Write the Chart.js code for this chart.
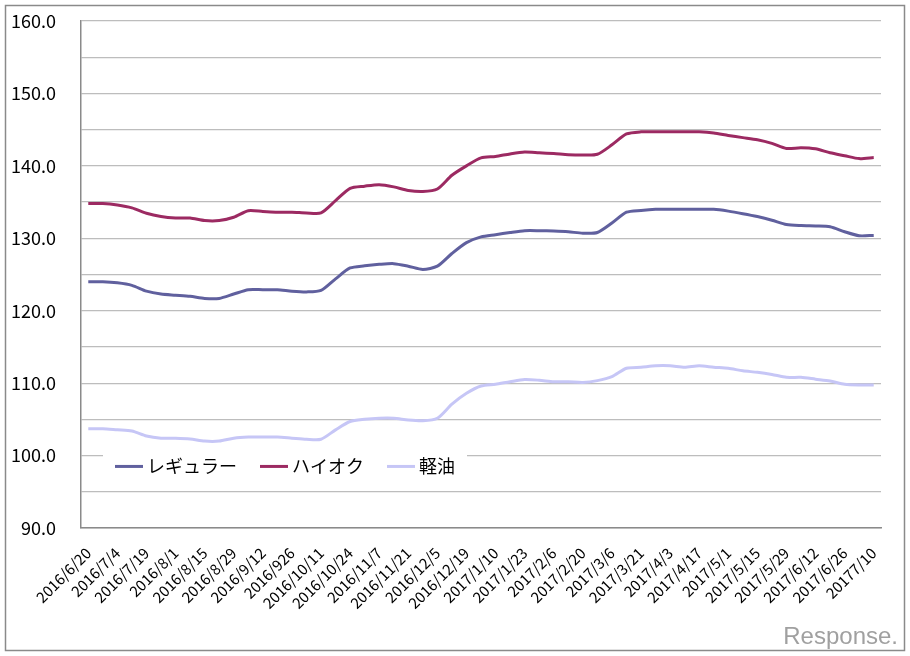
<!DOCTYPE html>
<html>
<head>
<meta charset="utf-8">
<script src="https://cdn.jsdelivr.net/npm/chart.js@4.4.1/dist/chart.umd.min.js"></script>
<style>
  html, body { margin: 0; padding: 0; background: #fff; }
  canvas { display: block; }
</style>
</head>
<body>
<canvas id="c" width="910" height="656"></canvas>
<script>
// Weekly survey dates (every other one is shown on the axis, as in the original, typos kept)
const categories = [
  '2016/6/20','2016/6/27','2016/7/4','2016/7/11','2016/7/19','2016/7/25','2016/8/1','2016/8/8',
  '2016/8/15','2016/8/22','2016/8/29','2016/9/5','2016/9/12','2016/9/20','2016/926','2016/10/3',
  '2016/10/11','2016/10/17','2016/10/24','2016/10/31','2016/11/7','2016/11/14','2016/11/21','2016/11/28',
  '2016/12/5','2016/12/12','2016/12/19','2016/12/26','2017/1/10','2017/1/16','2017/1/23','2017/1/30',
  '2017/2/6','2017/2/13','2017/2/20','2017/2/27','2017/3/6','2017/3/13','2017/3/21','2017/3/27',
  '2017/4/3','2017/4/10','2017/4/17','2017/4/24','2017/5/1','2017/5/8','2017/5/15','2017/5/22',
  '2017/5/29','2017/6/5','2017/6/12','2017/6/19','2017/6/26','2017/7/3','20177/10'
];

const regular = [
  124.0,124.0,123.85,123.5,122.7,122.3,122.15,122.0,121.7,121.7,122.3,122.9,122.9,122.9,122.7,122.6,
  122.8,124.4,125.9,126.2,126.4,126.5,126.15,125.7,126.15,127.9,129.4,130.2,130.5,130.8,131.05,131.05,
  131.0,130.9,130.7,130.8,132.1,133.6,133.85,134.0,134.0,134.0,134.0,134.0,133.75,133.4,133.0,132.5,
  131.9,131.75,131.7,131.6,130.9,130.35,130.4
];

const highOctane = [
  134.8,134.8,134.6,134.2,133.45,133.0,132.8,132.8,132.45,132.45,132.9,133.8,133.7,133.6,133.6,133.5,
  133.5,135.2,136.9,137.2,137.4,137.1,136.6,136.45,136.8,138.7,140.0,141.1,141.3,141.65,141.9,141.8,
  141.7,141.55,141.5,141.6,142.9,144.4,144.7,144.7,144.7,144.7,144.7,144.55,144.2,143.9,143.6,143.1,
  142.4,142.5,142.35,141.8,141.4,141.0,141.15
];

const diesel = [
  103.7,103.7,103.55,103.4,102.7,102.4,102.4,102.3,102.0,102.0,102.4,102.55,102.55,102.55,102.4,102.25,
  102.25,103.55,104.7,105.0,105.15,105.15,104.9,104.8,105.15,107.1,108.6,109.6,109.85,110.2,110.5,110.4,
  110.2,110.2,110.1,110.35,110.9,112.05,112.2,112.4,112.4,112.2,112.4,112.2,112.05,111.7,111.5,111.2,
  110.8,110.8,110.55,110.3,109.85,109.75,109.75
];

const seriesNames = ['レギュラー', 'ハイオク', '軽油'];
const seriesColors = ['#60609e', '#9c2a62', '#c6c6f6'];
const yMin = 90, yMax = 160, yStep = 5;

const JP = '"Noto Sans CJK JP", "Noto Sans", sans-serif';

const framePlugin = {
  id: 'frame',
  beforeDraw(chart) {
    const ctx = chart.ctx;
    ctx.save();
    ctx.fillStyle = '#fff';
    ctx.fillRect(0, 0, chart.width, chart.height);
    ctx.strokeStyle = '#8a8a8a';
    ctx.lineWidth = 1.5;
    ctx.strokeRect(5.5, 5.5, chart.width - 11, chart.height - 11);
    ctx.restore();
  },
  afterDraw(chart) {
    const ctx = chart.ctx;
    ctx.save();
    ctx.font = '24px "Liberation Sans", sans-serif';
    ctx.fillStyle = '#a0a0a0';
    ctx.textAlign = 'right';
    ctx.textBaseline = 'alphabetic';
    ctx.fillText('Response.', 898, 644);
    ctx.restore();
  }
};

const legendPlugin = {
  id: 'inLegend',
  afterDatasetsDraw(chart) {
    const ctx = chart.ctx;
    const ca = chart.chartArea;
    ctx.save();
    ctx.font = '18px ' + JP;
    const yC = chart.scales.y.getPixelForValue(98.5);
    let x = ca.left + 34;
    const startX = x - 12;
    const widths = chart.data.datasets.map(d => ctx.measureText(d.label).width);
    let total = 0;
    widths.forEach((w, i) => { total += 28 + 4 + w + (i < widths.length - 1 ? 23 : 0); });
    ctx.fillStyle = '#fff';
    ctx.fillRect(startX, yC - 18, total + 24, 36);
    ctx.textBaseline = 'middle';
    ctx.textAlign = 'left';
    chart.data.datasets.forEach((d, i) => {
      ctx.strokeStyle = d.borderColor;
      ctx.lineWidth = 3;
      ctx.beginPath();
      ctx.moveTo(x, yC);
      ctx.lineTo(x + 28, yC);
      ctx.stroke();
      x += 32;
      ctx.fillStyle = '#000';
      ctx.fillText(d.label, x, yC);
      x += widths[i] + 23;
    });
    ctx.restore();
  }
};

new Chart(document.getElementById('c'), {
  type: 'line',
  data: {
    labels: categories,
    datasets: [
      { label: seriesNames[0], data: regular, borderColor: seriesColors[0], backgroundColor: seriesColors[0] },
      { label: seriesNames[1], data: highOctane, borderColor: seriesColors[1], backgroundColor: seriesColors[1] },
      { label: seriesNames[2], data: diesel, borderColor: seriesColors[2], backgroundColor: seriesColors[2] }
    ]
  },
  options: {
    responsive: false,
    animation: false,
    devicePixelRatio: 1,
    elements: {
      point: { radius: 0, hoverRadius: 0 },
      line: { borderWidth: 3, tension: 0.25, fill: false }
    },
    layout: { padding: { left: 0, top: 21, right: 29, bottom: 0 } },
    plugins: {
      legend: { display: false },
      tooltip: { enabled: false },
      title: { display: false }
    },
    scales: {
      x: {
        offset: true,
        grid: { display: false, drawTicks: false },
        border: { display: true, color: '#8a8a8a', width: 1.5 },
        ticks: {
          autoSkip: false,
          minRotation: 45,
          maxRotation: 45,
          padding: 16,
          color: '#000',
          font: { family: JP, size: 15 },
          callback: function (v, i) { return i % 2 === 0 ? this.getLabelForValue(v) : ''; }
        },
        afterFit(axis) { axis.height = 128; axis.paddingLeft = 0; axis.paddingRight = 0; }
      },
      y: {
        min: yMin,
        max: yMax,
        grid: { color: '#bdbdbd', lineWidth: 1.2, drawTicks: false },
        border: { display: true, color: '#8a8a8a', width: 1.5 },
        ticks: {
          stepSize: yStep,
          padding: 25,
          color: '#000',
          font: { family: JP, size: 18 },
          callback: (v) => (v % 10 === 0 ? v.toFixed(1) : '')
        },
        afterFit(axis) { axis.width = 81; axis.paddingTop = 0; axis.paddingBottom = 0; }
      }
    }
  },
  plugins: [framePlugin, legendPlugin]
});
</script>
</body>
</html>
